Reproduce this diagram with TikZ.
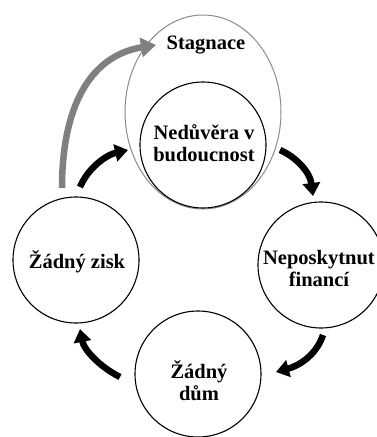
\documentclass[tikz,border=0pt]{standalone}
\usepackage{fontspec}
\setmainfont{Liberation Serif}
\usetikzlibrary{shapes.geometric,arrows.meta}
\tikzset{
  circ/.style={circle, draw=black, line width=1.1pt, minimum size=126pt, inner sep=0pt},
  oval/.style={ellipse, draw=black!45, line width=1pt, minimum width=156pt, minimum height=194pt, inner sep=0pt},
  lbl/.style={font=\bfseries\fontsize{20.5}{22}\selectfont, align=center, inner sep=0pt, text=black},
  cyc/.style={line width=6.5pt, -{Triangle[length=13pt,width=17pt]}},
  grey/.style={draw=black!50, line width=6.5pt, -{Triangle[length=15pt,width=19pt]}, color=black!50}
}
\begin{document}
\begin{tikzpicture}[x=1pt,y=-1pt]
\clip (0,0) rectangle (377,437);
\fill[white] (0,0) rectangle (377,437);
% nodes
\node[oval] (stag) at (203,112) {};
\node[lbl] (stagt) at (206,45) {Stagnace};
\node[circ] (ned) at (203,145) {};
\node[lbl] (nedt) at (204,143) {Nedůvěra v\\budoucnost};
\node[circ] (nep) at (321,265) {};
\node[lbl] (nept) at (319,268) {Neposkytnut\\financí};
\node[circ] (dum) at (198,374) {};
\node[lbl] (dumt) at (199,381) {Žádný\\dům};
\node[circ] (zisk) at (76,260) {};
\node[lbl] (ziskt) at (77,262) {Žádný zisk};
% connector ends
\coordinate (a1s) at (80,187);
\coordinate (a1e) at (128,150);
\coordinate (a2s) at (280,150);
\coordinate (a2e) at (313,196);
\coordinate (a3s) at (323,335);
\coordinate (a3e) at (276,372);
\coordinate (a4s) at (120,377);
\coordinate (a4e) at (80,329);
\coordinate (gs) at (62,188);
\coordinate (ge) at (156,45);
% cycle arrows
\draw[cyc] (a1s) .. controls (88,168) and (106,155) .. (a1e);
\draw[cyc] (a2s) .. controls (296,157) and (310,172) .. (a2e);
\draw[cyc] (a3s) .. controls (316,356) and (298,366) .. (a3e);
\draw[cyc] (a4s) .. controls (100,367) and (84,350) .. (a4e);
% grey arrow
\draw[grey] (gs) .. controls (62,110) and (88,56) .. (ge);
\end{tikzpicture}
\end{document}
